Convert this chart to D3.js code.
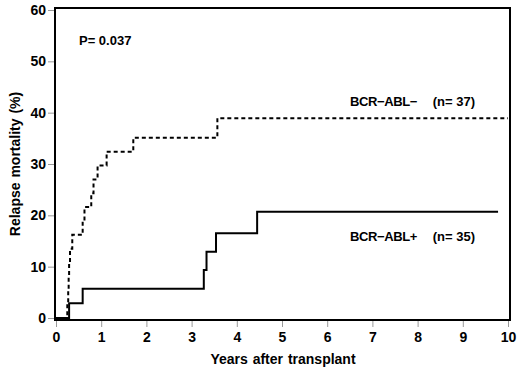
<!DOCTYPE html>
<html>
<head>
<meta charset="utf-8">
<script src="https://cdn.jsdelivr.net/npm/d3@7"></script>
<style>
  body { margin: 0; background: #fff; }
  svg { display: block; font-family: "Liberation Sans", Arial, Helvetica, sans-serif; }
  .tick line { stroke: #999; stroke-width: 1; }
  .tick text { fill: #000; font-size: 14px; font-weight: bold; }
</style>
</head>
<body>
<div id="chart"></div>
<script>
// time in years, cumulative relapse mortality in %
const negTimes  = [0, 0.25, 0.27, 0.28, 0.29, 0.31, 0.36, 0.59, 0.63, 0.78, 0.83, 0.92, 1.12, 1.71, 3.57, 10];
const negValues = [0, 2.7, 5.4, 8.1, 10.8, 13.5, 16.2, 18.9, 21.6, 24.3, 27.0, 29.7, 32.4, 35.1, 38.9, 38.9];
const posTimes  = [0, 0.29, 0.59, 3.27, 3.33, 3.54, 4.45, 9.78];
const posValues = [0, 2.86, 5.71, 9.35, 12.9, 16.5, 20.7, 20.7];
const xTicks = [0, 1, 2, 3, 4, 5, 6, 7, 8, 9, 10];
const yTicks = [0, 10, 20, 30, 40, 50, 60];
const seriesNames = ["BCR\u2212ABL\u2212", "BCR\u2212ABL+"];
const seriesN = ["(n= 37)", "(n= 35)"];
const pText = "P= 0.037";

const width = 520, height = 371;
const svg = d3.select("#chart").append("svg")
  .attr("width", width).attr("height", height);

const x = d3.scaleLinear().domain([0, 10]).range([56, 508]);
const y = d3.scaleLinear().domain([0, 60]).range([318, 10]);

// y axis ticks
svg.append("g")
  .attr("transform", "translate(" + (x(0) - 2) + ",0)")
  .call(d3.axisLeft(y).tickValues(yTicks).tickSize(6).tickPadding(2))
  .call(g => g.select(".domain").remove());

// x axis ticks
svg.append("g")
  .attr("transform", "translate(0," + (y(0) + 3) + ")")
  .call(d3.axisBottom(x).tickValues(xTicks).tickSize(6).tickPadding(5))
  .call(g => g.select(".domain").remove());

// frame
svg.append("rect")
  .attr("x", x(0) - 1).attr("y", y(60) - 2)
  .attr("width", x(10) + 2 - (x(0) - 1))
  .attr("height", y(0) + 2 - (y(60) - 2))
  .attr("fill", "none").attr("stroke", "#000").attr("stroke-width", 2);

const line = d3.line()
  .x(d => x(d[0])).y(d => y(d[1]))
  .curve(d3.curveStepAfter);

svg.append("path")
  .datum(d3.zip(negTimes, negValues))
  .attr("d", line)
  .attr("fill", "none").attr("stroke", "#000")
  .attr("stroke-width", 2).attr("stroke-dasharray", "4,3");

svg.append("path")
  .datum(d3.zip(posTimes, posValues))
  .attr("d", line)
  .attr("fill", "none").attr("stroke", "#000")
  .attr("stroke-width", 2);

// labels
const lab = svg.append("g").attr("font-weight", "bold");
lab.append("text").attr("x", 79).attr("y", 45).attr("font-size", 13).text(pText);

seriesNames.forEach((name, i) => {
  const ty = i === 0 ? 106 : 241;
  lab.append("text").attr("x", 350).attr("y", ty)
    .attr("font-size", 13).attr("letter-spacing", -0.4).text(name);
  lab.append("text").attr("x", 475).attr("y", ty)
    .attr("font-size", 13).attr("text-anchor", "end").text(seriesN[i]);
});

lab.append("text")
  .attr("x", 283).attr("y", 364)
  .attr("font-size", 14)
  .attr("text-anchor", "middle")
  .attr("word-spacing", 1)
  .text("Years after transplant");

lab.append("text")
  .attr("transform", "translate(20,164) rotate(-90)")
  .attr("font-size", 14)
  .attr("text-anchor", "middle")
  .attr("word-spacing", 1)
  .text("Relapse mortality (%)");
</script>
</body>
</html>
